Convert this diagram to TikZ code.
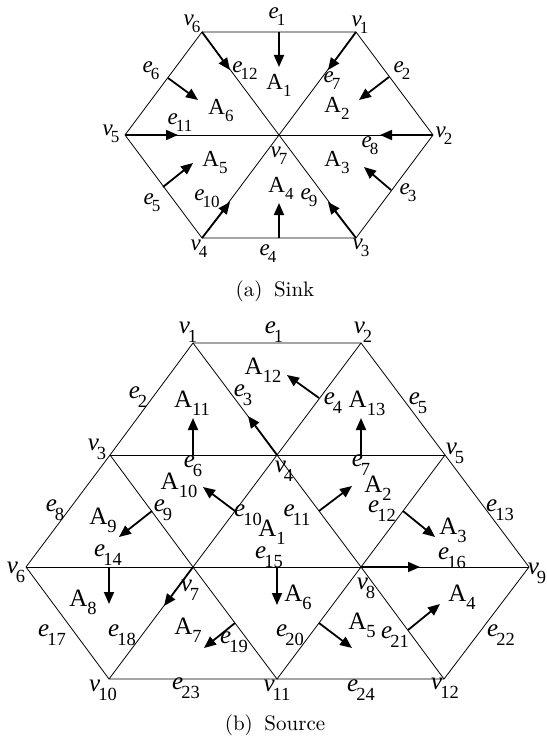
\documentclass[tikz,border=0pt]{standalone}
\usepackage{fontspec}
\newfontfamily\tms{Liberation Serif}
\usetikzlibrary{arrows.meta}
\def\lsz{24}\def\ssz{18}\def\sdrop{6pt}
\newcommand\ELab[2]{{\tms\fontsize{\lsz}{\lsz}\selectfont\textit{#1}\kern-2pt\smash{\raisebox{-\sdrop}{\fontsize{\ssz}{\ssz}\selectfont #2}}}}
\newcommand\ALab[1]{{\tms\fontsize{\lsz}{\lsz}\selectfont A\smash{\raisebox{-\sdrop}{\fontsize{\ssz}{\ssz}\selectfont #1}}}}
\tikzset{
  edgeline/.style={line width=0.8pt, line join=miter},
  flow/.style={line width=1.8pt, -{Triangle[length=12pt,width=10pt]}},
  lab/.style={inner sep=0pt, anchor=center},
  capt/.style={inner sep=0pt}
}
\begin{document}
\begin{tikzpicture}[x=1pt,y=-1pt]
\useasboundingbox (0,0) rectangle (546,738);
% ---------------- (a) Sink ----------------
\def\lsz{23}\def\ssz{17}\def\sdrop{7pt}
\coordinate (a1) at (356,32);
\coordinate (a2) at (433,135);
\coordinate (a3) at (356,238);
\coordinate (a4) at (202,238);
\coordinate (a5) at (125,135);
\coordinate (a6) at (202,32);
\coordinate (a7) at (279,135);
\draw[edgeline] (a1) -- (a2) -- (a3) -- (a4) -- (a5) -- (a6) -- cycle;
\draw[edgeline] (a1) -- (a4);
\draw[edgeline] (a2) -- (a5);
\draw[edgeline] (a3) -- (a6);
% arrows
\coordinate (ta1) at (279,32);   \coordinate (ha1) at (279,67);
\coordinate (ha12) at (230,70);
\coordinate (ta6) at (168,78);   \coordinate (ha6) at (198,100);
\coordinate (ha11) at (178,135);
\coordinate (ta5) at (163,187);  \coordinate (ha5) at (193,163);
\coordinate (ha10) at (230,202);
\coordinate (ta4) at (279,238);  \coordinate (ha4) at (279,203);
\coordinate (ha9) at (328,202);
\coordinate (ta3) at (391,190);  \coordinate (ha3) at (364,167);
\coordinate (ha8) at (380,135);
\coordinate (ta2) at (389,77);   \coordinate (ha2) at (359,100);
\coordinate (ha7) at (328,70);
\draw[flow] (ta1) -- (ha1);
\draw[flow] (a6) -- (ha12);
\draw[flow] (ta6) -- (ha6);
\draw[flow] (a5) -- (ha11);
\draw[flow] (ta5) -- (ha5);
\draw[flow] (a4) -- (ha10);
\draw[flow] (ta4) -- (ha4);
\draw[flow] (a3) -- (ha9);
\draw[flow] (ta3) -- (ha3);
\draw[flow] (a2) -- (ha8);
\draw[flow] (ta2) -- (ha2);
\draw[flow] (a1) -- (ha7);
% labels
\node[lab] (la-v6) at (192,20) {\ELab{v}{6}};
\node[lab] (la-e1) at (277,13) {\ELab{e}{1}};
\node[lab] (la-v1) at (360,21) {\ELab{v}{1}};
\node[lab] (la-e6) at (151,67) {\ELab{e}{6}};
\node[lab] (la-e12) at (245,67) {\ELab{e}{12}};
\node[lab] (la-A1) at (279,82) {\ALab{1}};
\node[lab] (la-e7) at (332,77) {\ELab{e}{7}};
\node[lab] (la-e2) at (402,67) {\ELab{e}{2}};
\node[lab] (la-A6) at (221,107) {\ALab{6}};
\node[lab] (la-A2) at (337,105) {\ALab{2}};
\node[lab] (la-v5) at (111,130) {\ELab{v}{5}};
\node[lab] (la-e11) at (180,119) {\ELab{e}{11}};
\node[lab] (la-e8) at (370,142) {\ELab{e}{8}};
\node[lab] (la-v2) at (444,132) {\ELab{v}{2}};
\node[lab] (la-A5) at (215,159) {\ALab{5}};
\node[lab] (la-v7) at (279,152) {\ELab{v}{7}};
\node[lab] (la-A3) at (337,159) {\ALab{3}};
\node[lab] (la-e5) at (152,199) {\ELab{e}{5}};
\node[lab] (la-e10) at (207,195) {\ELab{e}{10}};
\node[lab] (la-A4) at (281,185) {\ALab{4}};
\node[lab] (la-e9) at (309,194) {\ELab{e}{9}};
\node[lab] (la-e3) at (408,189) {\ELab{e}{3}};
\node[lab] (la-v4) at (199,245) {\ELab{v}{4}};
\node[lab] (la-e4) at (268,250) {\ELab{e}{4}};
\node[lab] (la-v3) at (361,244) {\ELab{v}{3}};
\node[capt] (capa) at (275,291) {\scalebox{2.1}{(a)\hspace{0.55em}Sink}};
% ---------------- (b) Source ----------------
\def\lsz{25}\def\ssz{18.5}\def\sdrop{8.5pt}
\coordinate (b1) at (193,343);
\coordinate (b2) at (361,343);
\coordinate (b3) at (110,455);
\coordinate (b4) at (277,455);
\coordinate (b5) at (445,455);
\coordinate (b6) at (26,567);
\coordinate (b7) at (193,567);
\coordinate (b8) at (361,567);
\coordinate (b9) at (529,567);
\coordinate (b10) at (109,679);
\coordinate (b11) at (277,679);
\coordinate (b12) at (444,679);
\draw[edgeline] (b1) -- (b2) -- (b5) -- (b9) -- (b12) -- (b10) -- (b6) -- (b3) -- cycle;
\draw[edgeline] (b3) -- (b5);
\draw[edgeline] (b6) -- (b9);
\draw[edgeline] (b1) -- (b4) -- (b2);
\draw[edgeline] (b3) -- (b7) -- (b4) -- (b8) -- (b5);
\draw[edgeline] (b10) -- (b7) -- (b11) -- (b8) -- (b12);
% arrows
\coordinate (tb6) at (193,455);  \coordinate (hb6) at (193,418);
\coordinate (hb3) at (248,416);
\coordinate (tb4) at (319,398);  \coordinate (hb4) at (287,375);
\coordinate (tb7) at (361,455);  \coordinate (hb7) at (361,418);
\coordinate (tb10) at (235,511); \coordinate (hb10) at (203,487);
\coordinate (tb9) at (152,511);  \coordinate (hb9) at (119,537);
\coordinate (tb14) at (109,567); \coordinate (hb14) at (109,604);
\coordinate (hb18) at (164,606);
\coordinate (tb19) at (235,623); \coordinate (hb19) at (204,648);
\coordinate (tb15) at (277,567); \coordinate (hb15) at (277,605);
\coordinate (tb20) at (319,623); \coordinate (hb20) at (352,648);
\coordinate (tb21) at (408,630); \coordinate (hb21) at (440,604);
\coordinate (hb16) at (420,567);
\coordinate (tb12) at (403,511); \coordinate (hb12) at (435,537);
\coordinate (tb11) at (319,511); \coordinate (hb11) at (352,486);
\draw[flow] (tb6) -- (hb6);
\draw[flow] (b4) -- (hb3);
\draw[flow] (tb4) -- (hb4);
\draw[flow] (tb7) -- (hb7);
\draw[flow] (tb10) -- (hb10);
\draw[flow] (tb9) -- (hb9);
\draw[flow] (tb14) -- (hb14);
\draw[flow] (b7) -- (hb18);
\draw[flow] (tb19) -- (hb19);
\draw[flow] (tb15) -- (hb15);
\draw[flow] (tb20) -- (hb20);
\draw[flow] (tb21) -- (hb21);
\draw[flow] (b8) -- (hb16);
\draw[flow] (tb12) -- (hb12);
\draw[flow] (tb11) -- (hb11);
% labels
\node[lab] (lb-v1) at (188,328) {\ELab{v}{1}};
\node[lab] (lb-e1) at (274,328) {\ELab{e}{1}};
\node[lab] (lb-v2) at (363,328) {\ELab{v}{2}};
\node[lab] (lb-e2) at (138,393) {\ELab{e}{2}};
\node[lab] (lb-A11) at (192,399) {\ALab{11}};
\node[lab] (lb-e3) at (243,391) {\ELab{e}{3}};
\node[lab] (lb-A12) at (263,366) {\ALab{12}};
\node[lab] (lb-e4) at (333,399) {\ELab{e}{4}};
\node[lab] (lb-A13) at (367,399) {\ALab{13}};
\node[lab] (lb-e5) at (418,399) {\ELab{e}{5}};
\node[lab] (lb-v3) at (97,445) {\ELab{v}{3}};
\node[lab] (lb-e6) at (193,462) {\ELab{e}{6}};
\node[lab] (lb-v4) at (284,467) {\ELab{v}{4}};
\node[lab] (lb-e7) at (361,461) {\ELab{e}{7}};
\node[lab] (lb-v5) at (455,449) {\ELab{v}{5}};
\node[lab] (lb-e8) at (55,506) {\ELab{e}{8}};
\node[lab] (lb-A9) at (103,516) {\ALab{9}};
\node[lab] (lb-e9) at (163,506) {\ELab{e}{9}};
\node[lab] (lb-A10) at (179,481) {\ALab{10}};
\node[lab] (lb-e10) at (248,511) {\ELab{e}{10}};
\node[lab] (lb-A1) at (272,528) {\ALab{1}};
\node[lab] (lb-e11) at (297,511) {\ELab{e}{11}};
\node[lab] (lb-A2) at (378,484) {\ALab{2}};
\node[lab] (lb-e12) at (382,507) {\ELab{e}{12}};
\node[lab] (lb-A3) at (453,526) {\ALab{3}};
\node[lab] (lb-e13) at (500,506) {\ELab{e}{13}};
\node[lab] (lb-v6) at (16,568) {\ELab{v}{6}};
\node[lab] (lb-e14) at (108,551) {\ELab{e}{14}};
\node[lab] (lb-e15) at (269,553) {\ELab{e}{15}};
\node[lab] (lb-e16) at (452,554) {\ELab{e}{16}};
\node[lab] (lb-v9) at (537,569) {\ELab{v}{9}};
\node[lab] (lb-v7) at (190,586) {\ELab{v}{7}};
\node[lab] (lb-v8) at (366,584) {\ELab{v}{8}};
\node[lab] (lb-A8) at (83,598) {\ALab{8}};
\node[lab] (lb-A6) at (298,593) {\ALab{6}};
\node[lab] (lb-A4) at (462,593) {\ALab{4}};
\node[lab] (lb-e17) at (52,631) {\ELab{e}{17}};
\node[lab] (lb-e18) at (122,631) {\ELab{e}{18}};
\node[lab] (lb-A7) at (188,626) {\ALab{7}};
\node[lab] (lb-e19) at (234,638) {\ELab{e}{19}};
\node[lab] (lb-e20) at (290,631) {\ELab{e}{20}};
\node[lab] (lb-A5) at (362,621) {\ALab{5}};
\node[lab] (lb-e21) at (395,633) {\ELab{e}{21}};
\node[lab] (lb-e22) at (501,631) {\ELab{e}{22}};
\node[lab] (lb-v10) at (103,686) {\ELab{v}{10}};
\node[lab] (lb-e23) at (186,684) {\ELab{e}{23}};
\node[lab] (lb-v11) at (277,686) {\ELab{v}{11}};
\node[lab] (lb-e24) at (361,686) {\ELab{e}{24}};
\node[lab] (lb-v12) at (445,684) {\ELab{v}{12}};
\node[capt] (capb) at (275,725) {\scalebox{2.1}{(b)\hspace{0.55em}Source}};
\end{tikzpicture}
\end{document}
